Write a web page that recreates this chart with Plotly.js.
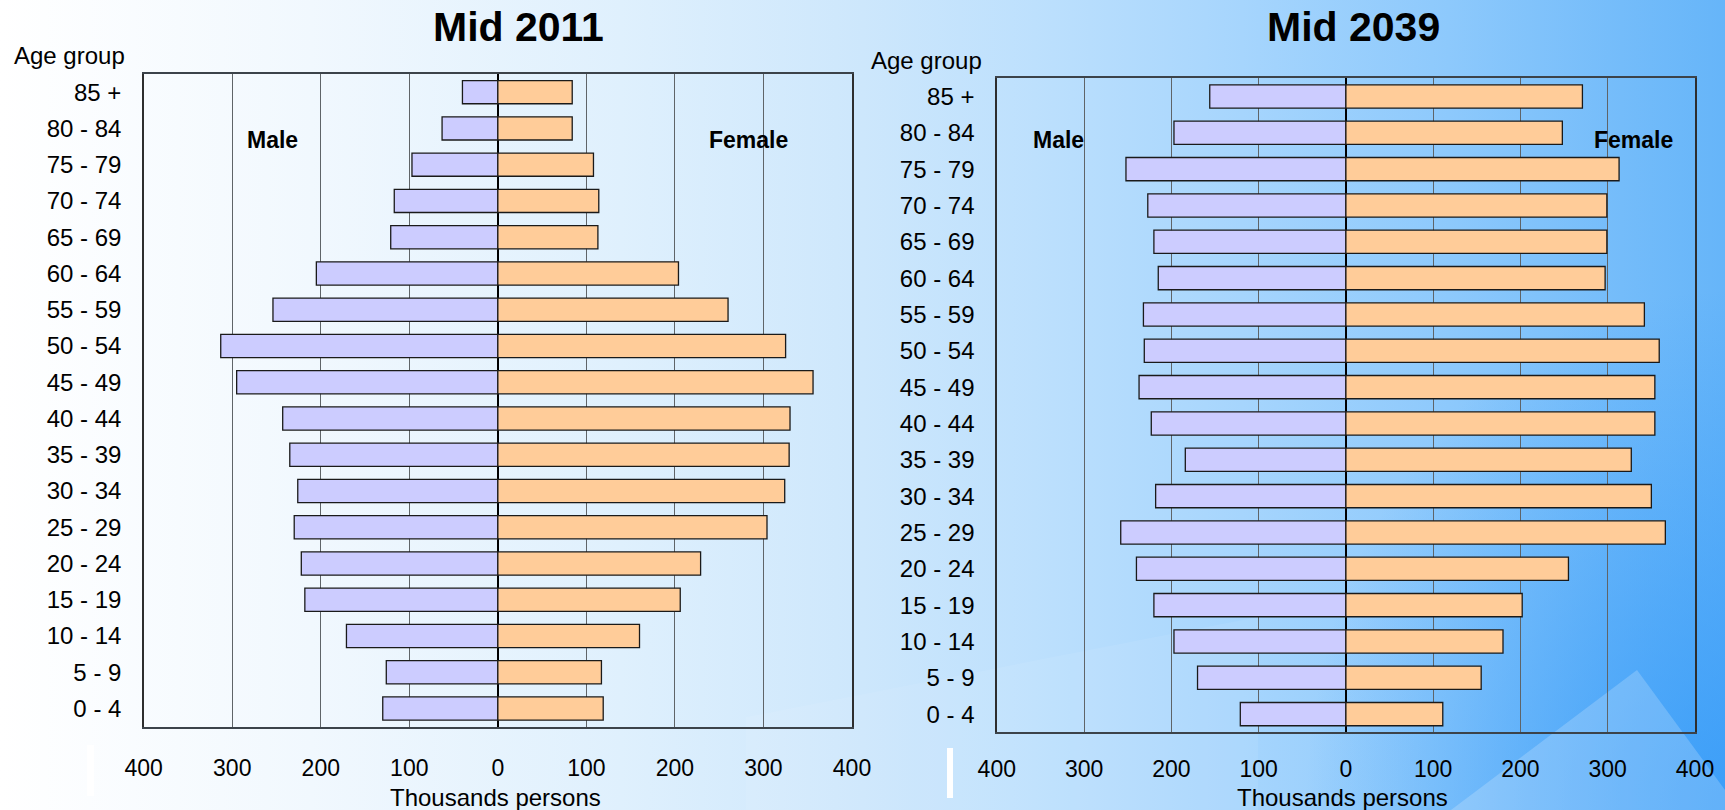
<!DOCTYPE html>
<html>
<head>
<meta charset="utf-8">
<script src="https://cdn.plot.ly/plotly-3.0.1.min.js"></script>
<style>
  html, body { margin: 0; padding: 0; }
  body {
    width: 1725px; height: 810px; overflow: hidden; position: relative;
    background:
      radial-gradient(ellipse 420px 520px at 100% 100%, rgba(45,150,248,0.75) 0%, rgba(45,150,248,0) 100%),
      linear-gradient(90deg, #ffffff 0%, #f1f8fe 18%, #dff0fd 36%, #cde7fc 50%, #bde0fd 60%, #a6d5fd 72%, #8dc9fc 84%, #74bcfa 94%, #66b5f9 100%);
  }
  .deco { position: absolute; pointer-events: none; }
  .wbar { position: absolute; background: #ffffff; }
  #chart { position: absolute; left: 0; top: 0; width: 1725px; height: 810px; }
</style>
</head>
<body>
<div class="deco" style="left:0; top:0; width:1725px; height:810px; background: rgba(255,255,255,0.20);
  clip-path: polygon(1637px 670px, 1725px 790px, 1725px 810px, 1451px 810px);"></div>
<div class="deco" style="left:0; top:0; width:1725px; height:810px; background: rgba(255,255,255,0.07);
  clip-path: polygon(1258px 617px, 1258px 810px, 746px 810px, 746px 717px);"></div>
<div class="wbar" style="left:87px; top:745px; width:7px; height:51px;"></div>
<div class="wbar" style="left:947px; top:748px; width:6px; height:50px;"></div>
<div id="chart"></div>
<script>
// ---- Data (thousands of persons) ----
const ageGroups = ["0 - 4", "5 - 9", "10 - 14", "15 - 19", "20 - 24", "25 - 29", "30 - 34",
  "35 - 39", "40 - 44", "45 - 49", "50 - 54", "55 - 59", "60 - 64", "65 - 69",
  "70 - 74", "75 - 79", "80 - 84", "85 +"];

const male2011   = [130, 126, 171, 218, 222, 230, 226, 235, 243, 295, 313, 254, 205, 121, 117, 97, 63, 40];
const female2011 = [119, 117, 160, 206, 229, 304, 324, 329, 330, 356, 325, 260, 204, 113, 114, 108, 84, 84];

const male2039   = [121, 170, 197, 220, 240, 258, 218, 184, 223, 237, 231, 232, 215, 220, 227, 252, 197, 156];
const female2039 = [111, 155, 180, 202, 255, 366, 350, 327, 354, 354, 359, 342, 297, 299, 299, 313, 248, 271];

const xTickVals = [-400, -300, -200, -100, 0, 100, 200, 300, 400];
const xTickText = ["400", "300", "200", "100", "0", "100", "200", "300", "400"];

const titles = ["Mid 2011", "Mid 2039"];
const yLabel = "Age group";
const xLabel = "Thousands persons";
const maleLabel = "Male";
const femaleLabel = "Female";

// ---- Styling ----
const FONT = "Liberation Sans, Arial, sans-serif";
const maleColor = "#ccccff";
const femaleColor = "#ffcc99";
const barLine = { color: "#1a1a1a", width: 1.3 };

function barTrace(vals, sign, color, name, xa, ya) {
  return {
    type: "bar", orientation: "h", name: name,
    y: ageGroups, x: vals.map(v => sign * v),
    marker: { color: color, line: barLine },
    xaxis: xa, yaxis: ya, showlegend: false, hoverinfo: "y+text",
    text: vals.map(String), textposition: "none"
  };
}

const data = [
  barTrace(male2011, -1, maleColor, maleLabel, "x", "y"),
  barTrace(female2011, 1, femaleColor, femaleLabel, "x", "y"),
  barTrace(male2039, -1, maleColor, maleLabel, "x2", "y2"),
  barTrace(female2039, 1, femaleColor, femaleLabel, "x2", "y2")
];

function xAxis(domain, anchor, standoff) {
  return {
    domain: domain, anchor: anchor, range: [-400, 400], fixedrange: true,
    tickvals: xTickVals, ticktext: xTickText, ticks: "", ticklabelstandoff: standoff,
    tickfont: { family: FONT, size: 23, color: "#000" },
    showgrid: true, gridcolor: "#5f6468", gridwidth: 1,
    zeroline: true, zerolinecolor: "#000", zerolinewidth: 1.3,
    showline: true, mirror: true, linecolor: "#3c434a", linewidth: 2
  };
}
function yAxis(domain, anchor) {
  return {
    domain: domain, anchor: anchor, type: "category",
    categoryorder: "array", categoryarray: ageGroups, range: [-0.5, 17.5],
    fixedrange: true, ticks: "", ticklabelstandoff: 16,
    tickfont: { family: FONT, size: 24, color: "#000" },
    showgrid: false, zeroline: false,
    showline: true, mirror: true, linecolor: "#2e2e2e", linewidth: 1.5
  };
}

function ann(text, xpx, ypx, size, bold, xanchor) {
  return {
    xref: "paper", yref: "paper", x: xpx / 1725, y: 1 - ypx / 810,
    xanchor: xanchor || "center", yanchor: "middle", showarrow: false,
    text: bold ? "<b>" + text + "</b>" : text,
    font: { family: FONT, size: size, color: "#000" }
  };
}

const layout = {
  width: 1725, height: 810,
  margin: { l: 0, r: 0, t: 0, b: 0 },
  paper_bgcolor: "rgba(0,0,0,0)", plot_bgcolor: "rgba(0,0,0,0)",
  barmode: "overlay", bargap: 0.36,
  xaxis: xAxis([143.7 / 1725, 852 / 1725], "y", 20),
  yaxis: yAxis([1 - 726.7 / 810, 1 - 74 / 810], "x"),
  xaxis2: xAxis([996.8 / 1725, 1695 / 1725], "y2", 15),
  yaxis2: yAxis([1 - 732.3 / 810, 1 - 78.3 / 810], "x2"),
  annotations: [
    ann(titles[0], 518, 27, 41, true),
    ann(titles[1], 1353, 27, 41, true),
    ann(yLabel, 12, 56, 24, false, "left"),
    ann(yLabel, 869, 61, 24, false, "left"),
    ann(maleLabel, 272, 140, 23, true),
    ann(femaleLabel, 748, 140, 23, true),
    ann(maleLabel, 1058, 140, 23, true),
    ann(femaleLabel, 1633, 140, 23, true),
    ann(xLabel, 495, 797, 24, false),
    ann(xLabel, 1342, 797, 24, false)
  ]
};

Plotly.newPlot("chart", data, layout, { staticPlot: true, displayModeBar: false });
</script>
</body>
</html>
